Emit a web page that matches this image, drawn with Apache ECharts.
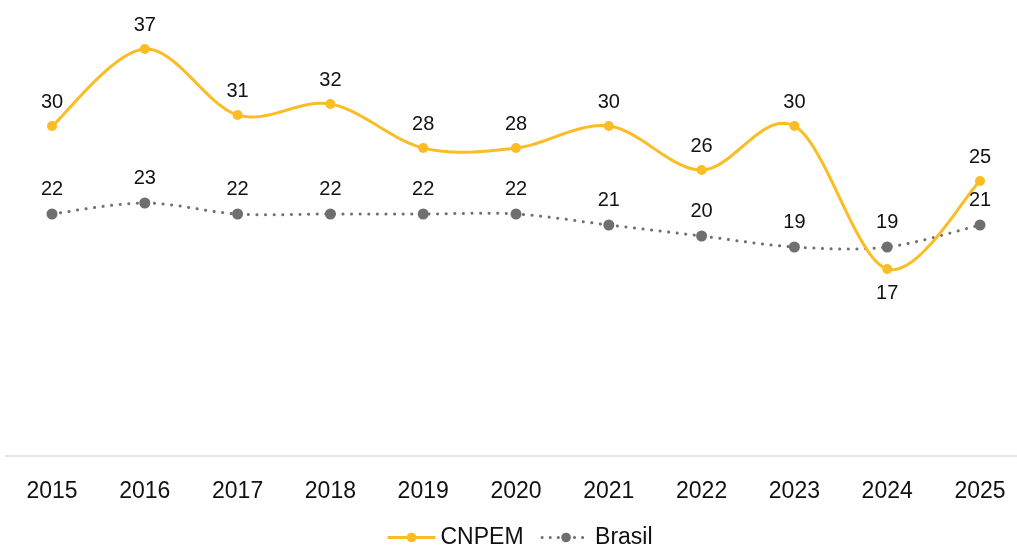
<!DOCTYPE html>
<html>
<head>
<meta charset="utf-8">
<script src="https://cdn.jsdelivr.net/npm/echarts@6/dist/echarts.min.js"></script>
<style>
  html, body { margin: 0; padding: 0; background: #fff; }
  #chart { width: 1017px; height: 547px; }
</style>
</head>
<body>
<div id="chart"></div>
<script>
// Years on the horizontal axis
const years = ['2015', '2016', '2017', '2018', '2019', '2020', '2021', '2022', '2023', '2024', '2025'];
// CNPEM yearly values
const cnpem = [30, 37, 31, 32, 28, 28, 30, 26, 30, 17, 25];
// Brasil yearly values
const brasil = [22, 23, 22, 22, 22, 22, 21, 20, 19, 19, 21];

const font = 'Liberation Sans, Arial, Helvetica, sans-serif';
const YELLOW = '#fbbc24';
const GREY = '#6f6f6f';

// Smooth curve through the points (Catmull-Rom style, tension 1/6),
// sampled into a polyline so dash patterns stay continuous.
function smoothPoints(pts) {
  const out = [];
  const n = pts.length;
  const steps = 24;
  for (let i = 0; i < n - 1; i++) {
    const p0 = pts[Math.max(i - 1, 0)];
    const p1 = pts[i];
    const p2 = pts[i + 1];
    const p3 = pts[Math.min(i + 2, n - 1)];
    const c1 = [p1[0] + (p2[0] - p0[0]) / 6, p1[1] + (p2[1] - p0[1]) / 6];
    const c2 = [p2[0] - (p3[0] - p1[0]) / 6, p2[1] - (p3[1] - p1[1]) / 6];
    for (let s = (i === 0 ? 0 : 1); s <= steps; s++) {
      const t = s / steps, u = 1 - t;
      out.push([
        u * u * u * p1[0] + 3 * u * u * t * c1[0] + 3 * u * t * t * c2[0] + t * t * t * p2[0],
        u * u * u * p1[1] + 3 * u * u * t * c1[1] + 3 * u * t * t * c2[1] + t * t * t * p2[1]
      ]);
    }
  }
  return out;
}

function curveSeries(values, lineStyle) {
  return {
    type: 'custom',
    silent: true,
    z: 1,
    data: values.map((v, i) => [i, v]),
    renderItem(params, api) {
      if (params.dataIndex !== 0) return null;
      const pts = values.map((v, i) => api.coord([i, v]));
      return {
        type: 'polyline',
        shape: { points: smoothPoints(pts) },
        style: Object.assign({ fill: null }, lineStyle)
      };
    }
  };
}

const chart = echarts.init(document.getElementById('chart'));

chart.setOption({
  animation: false,
  textStyle: { fontFamily: font },
  grid: [
    // plotting area: first and last year sit on its edges
    { left: 52, right: 37, top: 16, bottom: 91 },
    // full-width baseline under the plot
    { left: 6, right: 0, top: 16, bottom: 91 }
  ],
  legend: {
    bottom: -7,
    left: 381,
    itemWidth: 48,
    itemHeight: 12,
    itemGap: 17,
    textStyle: { fontSize: 23, color: '#111', fontFamily: font },
    data: [
      { name: 'CNPEM', lineStyle: { opacity: 1, color: YELLOW, width: 3 } },
      { name: 'Brasil', lineStyle: { opacity: 1, color: GREY, width: 3, type: [0.1, 8], cap: 'round' } }
    ]
  },
  xAxis: [
    {
      type: 'category',
      gridIndex: 0,
      data: years,
      boundaryGap: false,
      axisLine: { show: false },
      axisTick: { show: false },
      axisLabel: { fontSize: 23, color: '#111', margin: 24, fontFamily: font }
    },
    {
      type: 'category',
      gridIndex: 1,
      data: years,
      axisLine: { lineStyle: { color: '#e3e3e3', width: 2 } },
      axisTick: { show: false },
      axisLabel: { show: false }
    }
  ],
  yAxis: [
    { type: 'value', gridIndex: 0, min: 0, max: 40, show: false, splitLine: { show: false } },
    { type: 'value', gridIndex: 1, min: 0, max: 40, show: false, splitLine: { show: false } }
  ],
  series: [
    curveSeries(brasil, { stroke: GREY, lineWidth: 3, lineDash: [0.1, 8.5], lineCap: 'round' }),
    curveSeries(cnpem, { stroke: YELLOW, lineWidth: 3, lineCap: 'round' }),
    {
      name: 'CNPEM',
      type: 'line',
      data: cnpem.map((v, i) => (i === 9
        ? { value: v, label: { position: 'bottom' } }
        : v)),
      symbol: 'circle',
      symbolSize: 10,
      itemStyle: { color: YELLOW },
      lineStyle: { color: YELLOW, width: 3, opacity: 0 },
      label: { show: true, position: 'top', distance: 9, fontSize: 20, color: '#111', fontFamily: font },
      z: 4
    },
    {
      name: 'Brasil',
      type: 'line',
      data: brasil,
      symbol: 'circle',
      symbolSize: 11,
      itemStyle: { color: GREY },
      lineStyle: { color: GREY, width: 3, opacity: 0 },
      label: { show: true, position: 'top', distance: 9, fontSize: 20, color: '#111', fontFamily: font },
      z: 3
    }
  ]
});
</script>
</body>
</html>
